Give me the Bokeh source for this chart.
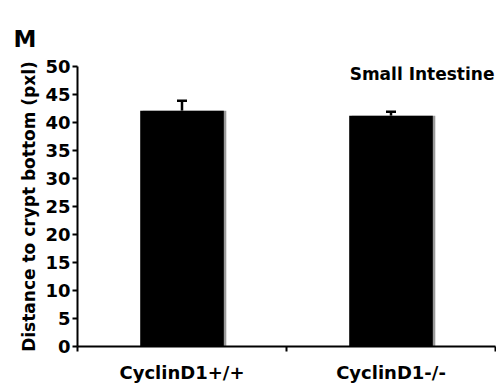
from bokeh.plotting import figure
from bokeh.models import ColumnDataSource, FixedTicker, Whisker, TeeHead, Label, Range1d
from bokeh.transform import dodge
from bokeh.embed import file_html
from bokeh.resources import INLINE

# data
groups = ["CyclinD1+/+", "CyclinD1-/-"]
means = [42.1, 41.2]
sems = [1.8, 0.7]
y_ticks = [0, 5, 10, 15, 20, 25, 30, 35, 40, 45, 50]
panel_letter = "M"
panel_title = "Small Intestine"
y_title = "Distance to crypt bottom (pxl)"

xpos = [i + 0.5 for i in range(len(groups))]
upper = [m + s for m, s in zip(means, sems)]
src = ColumnDataSource(dict(x=xpos, top=means, upper=upper, name=groups))

FONT = "DejaVu Sans"

p = figure(width=496, height=385, output_backend="svg", toolbar_location=None,
           x_range=Range1d(0, len(groups)), y_range=Range1d(0, 50))
p.min_border_left = 77
p.min_border_right = 1
p.min_border_top = 66
p.min_border_bottom = 35
p.outline_line_color = None
p.grid.grid_line_color = None
p.background_fill_color = "white"
p.border_fill_color = "white"

p.title.text = panel_letter
p.title.align = "left"
p.title.offset = -64
p.title.text_font = FONT
p.title.text_font_style = "bold"
p.title.text_font_size = "23px"
p.title.text_color = "black"
p.title.standoff = 30

# shadow + bars
p.vbar(x=dodge("x", 0.012, range=p.x_range), top="top", width=0.4, source=src,
       fill_color="#9a9a9a", line_color=None)
p.vbar(x="x", top="top", width=0.4, source=src, fill_color="black", line_color=None)

w = Whisker(source=src, base="x", upper="upper", lower="top",
            line_color="black", line_width=2.5,
            upper_head=TeeHead(size=10, line_color="black", line_width=2.5),
            lower_head=None)
p.add_layout(w)

# x axis
xa = p.xaxis[0]
xa.ticker = FixedTicker(ticks=xpos, minor_ticks=list(range(len(groups) + 1)))
xa.major_label_overrides = {x: g for x, g in zip(xpos, groups)}
xa.major_tick_out = 0
xa.major_tick_in = 0
xa.minor_tick_out = 5
xa.minor_tick_in = 0
xa.minor_tick_line_width = 2
xa.axis_line_width = 2
xa.major_label_standoff = 10
xa.major_label_text_font = FONT
xa.major_label_text_font_style = "bold"
xa.major_label_text_font_size = "18px"
xa.major_label_text_color = "black"

# y axis
ya = p.yaxis[0]
ya.ticker = FixedTicker(ticks=y_ticks)
ya.major_tick_out = 5
ya.major_tick_in = 0
ya.major_tick_line_width = 2
ya.minor_tick_line_color = None
ya.axis_line_width = 2
ya.major_label_standoff = 2
ya.major_label_text_font = FONT
ya.major_label_text_font_style = "bold"
ya.major_label_text_font_size = "18px"
ya.major_label_text_color = "black"
ya.axis_label = y_title
ya.axis_label_text_font = FONT
ya.axis_label_text_font_style = "bold"
ya.axis_label_text_font_size = "17px"
ya.axis_label_text_color = "black"
ya.axis_label_standoff = 3

p.add_layout(Label(x=len(groups) - 0.005, y=50.5, text=panel_title, text_align="right",
                   text_baseline="top", text_font=FONT, text_font_style="bold",
                   text_font_size="17px", text_color="black"))

open("out.html", "w").write(file_html(p, INLINE))
